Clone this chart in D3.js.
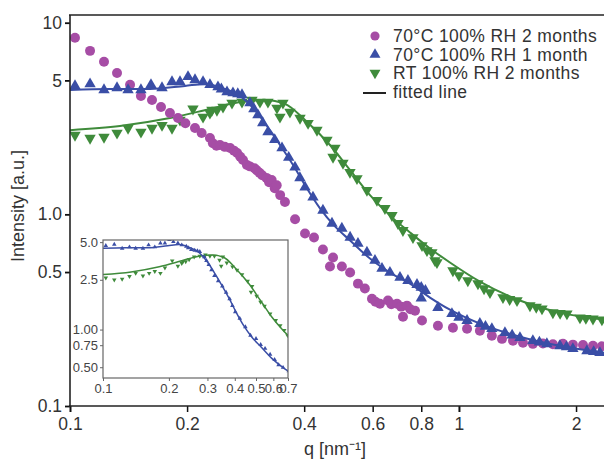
<!DOCTYPE html>
<html><head><meta charset="utf-8">
<script src="https://cdn.jsdelivr.net/npm/d3@7"></script>
<style>body{margin:0;background:#fff}svg{display:block;font-family:"Liberation Sans",Arial,sans-serif}</style>
</head><body><svg id="c" width="604" height="459"></svg>
<script>
// ---- data (q in nm^-1, intensity in a.u.) ----
const purpleQ=[0.103,0.1126,0.1223,0.1321,0.1427,0.1522,0.1625,0.1714,0.1807,0.1895,0.198,0.2096,0.218,0.229,0.233,0.238,0.243,0.25,0.258,0.264,0.269,0.274,0.2785,0.285,0.29,0.298,0.302,0.307,0.312,0.32,0.325,0.33,0.336,0.34,0.347,0.357,0.379,0.402,0.424,0.447,0.4745,0.466,0.500,0.525,0.55,0.573,0.5975,0.61,0.6265,0.657,0.67,0.693,0.71,0.735,0.75,0.771,0.718,0.8035,0.883,0.965,1.049,1.132,1.215,1.29,1.377,1.461,1.549,1.644,1.744,1.851,1.963,2.084,2.211,2.331];
const purpleI=[8.35,7.13,6.25,5.47,4.74,4.15,3.95,3.63,3.38,3.18,2.99,2.82,2.66,2.50,2.35,2.28,2.30,2.25,2.22,2.15,2.09,2.0,1.92,1.81,1.78,1.74,1.70,1.65,1.60,1.55,1.47,1.51,1.37,1.42,1.26,1.16,0.942,0.795,0.758,0.656,0.596,0.534,0.534,0.497,0.435,0.41,0.363,0.35,0.342,0.355,0.34,0.342,0.33,0.334,0.32,0.314,0.292,0.279,0.262,0.256,0.253,0.247,0.2325,0.224,0.219,0.214,0.211,0.212,0.210,0.211,0.209,0.208,0.206,0.205];

const blueQ=[0.103,0.1126,0.1223,0.1321,0.141,0.1522,0.1615,0.1724,0.1829,0.1918,0.2011,0.2096,0.2198,0.229,0.2401,0.245,0.2533,0.2624,0.27,0.2768,0.2902,0.297,0.3042,0.313,0.3228,0.336,0.3508,0.365,0.3788,0.39,0.402,0.4214,0.447,0.4716,0.500,0.525,0.55,0.580,0.6082,0.634,0.6646,0.7053,0.7394,0.78,0.80,0.82,0.80,0.883,0.9593,1.0,1.049,1.132,1.17,1.215,1.313,1.37,1.435,1.549,1.61,1.683,1.818,1.89,1.963,2.133,2.22,2.304];
const blueI=[4.68,4.79,4.46,4.57,4.46,4.46,4.74,4.57,4.91,4.91,5.22,5.03,4.91,4.74,4.62,4.5,4.35,4.30,4.25,4.20,3.81,3.55,3.30,3.0,2.69,2.45,2.22,1.98,1.76,1.55,1.385,1.227,1.049,0.897,0.845,0.758,0.705,0.633,0.574,0.522,0.497,0.468,0.451,0.43,0.415,0.40,0.365,0.326,0.303,0.29,0.279,0.269,0.26,0.253,0.241,0.234,0.227,0.219,0.215,0.211,0.206,0.203,0.199,0.194,0.192,0.1895];

const greenQ=[0.103,0.1126,0.1223,0.1321,0.141,0.1522,0.1625,0.1724,0.1829,0.1918,0.2071,0.2198,0.229,0.2317,0.2387,0.2474,0.2609,0.2768,0.2937,0.3079,0.3228,0.3405,0.3528,0.3466,0.3677,0.3903,0.4093,0.4315,0.4578,0.4745,0.4799,0.5033,0.5246,0.5468,0.5800,0.6154,0.6452,0.6726,0.6969,0.7178,0.7616,0.8035,0.8275,0.852,0.8675,0.8779,0.965,1.0,1.054,1.119,1.16,1.2016,1.2976,1.35,1.4101,1.5225,1.58,1.635,1.744,1.82,1.895,2.047,2.12,2.211,2.331];
const greenI=[2.59,2.50,2.53,2.66,2.82,2.69,2.82,2.92,2.82,3.11,3.55,3.22,3.38,3.50,3.50,3.63,3.81,3.86,3.95,3.86,3.86,3.59,3.81,3.22,3.42,3.18,2.99,2.75,2.44,1.99,2.22,1.85,1.66,1.54,1.336,1.184,1.075,0.988,0.897,0.825,0.758,0.688,0.648,0.633,0.574,0.561,0.509,0.48,0.451,0.435,0.41,0.391,0.368,0.36,0.355,0.334,0.328,0.322,0.307,0.305,0.303,0.289,0.287,0.285,0.282];

const blueFitQ=[0.1,0.1267,0.1605,0.1975,0.2223,0.2503,0.2735,0.2989,0.3267,0.3508,0.379,0.402,0.4393,0.480,0.525,0.5905,0.6646,0.7482,0.8424,0.948,1.132,1.435,1.818,2.36];
const blueFitI=[4.46,4.51,4.51,4.68,4.79,4.51,4.15,3.50,2.75,2.22,1.74,1.419,1.075,0.865,0.731,0.588,0.497,0.435,0.368,0.318,0.269,0.230,0.206,0.1895];
const greenFitQ=[0.1,0.1344,0.1807,0.229,0.2735,0.317,0.357,0.402,0.466,0.525,0.5905,0.664,0.7482,0.8424,0.948,1.132,1.435,1.818,2.36];
const greenFitI=[2.75,2.89,3.18,3.55,3.86,3.95,3.77,3.11,2.30,1.70,1.26,0.988,0.805,0.664,0.561,0.446,0.355,0.307,0.282];

const xTicks=[0.1,0.2,0.4,0.6,0.8,1,2];
const xTickLabels=["0.1","0.2","0.4","0.6","0.8","1","2"];
const yTicks=[10,5,1,0.5,0.1];
const yTickLabels=["10","5","1.0","0.5","0.1"];
const insetXTicks=[0.1,0.2,0.3,0.4,0.5,0.6,0.7];
const insetXTickLabels=["0.1","0.2","0.3","0.4","0.5","0.6","0.7"];
const insetYTicks=[5,2.5,1,0.75,0.5];
const insetYTickLabels=["5.0","2.5","1.00","0.75","0.50"];
const legendLabels=["70°C 100% RH 2 months","70°C 100% RH 1 month","RT 100% RH 2 months","fitted line"];

const colors={purple:"#a64da5",blue:"#3a4ea6",green:"#3f8b3b"};
const zip=(a,b)=>a.map((v,i)=>[v,b[i]]);

const svg=d3.select('#c');
const L=70,R=604,T=15,B=406;
const x=d3.scaleLog().domain([0.1,2.36]).range([L,R]);
const y=d3.scaleLog().domain([0.1,10.97]).range([B,T]);

const defs=svg.append('defs');
defs.append('clipPath').attr('id','mainclip').append('rect').attr('x',L).attr('y',T).attr('width',R-L).attr('height',B-T);

const plot=svg.append('g').attr('clip-path','url(#mainclip)');
const sym=(type,size)=>d3.symbol().type(type).size(size);

function drawSeries(g,xs,ys,data,type,size,color,rot){
  g.selectAll(null).data(data).enter().append('path')
   .attr('d',sym(type,size)())
   .attr('transform',d=>`translate(${xs(d[0])},${ys(d[1])})${rot?' rotate(180)':''}`)
   .attr('fill',color);
}
function drawFit(g,xs,ys,data,color,w){
  g.append('path').datum(data)
   .attr('d',d3.line().x(d=>xs(d[0])).y(d=>ys(d[1])).curve(d3.curveMonotoneX))
   .attr('fill','none').attr('stroke',color).attr('stroke-width',w);
}
drawSeries(plot,x,y,zip(greenQ,greenI),d3.symbolTriangle,56,colors.green,true);
drawFit(plot,x,y,zip(greenFitQ,greenFitI),colors.green,2);
drawSeries(plot,x,y,zip(purpleQ,purpleI),d3.symbolCircle,78,colors.purple,false);
drawSeries(plot,x,y,zip(blueQ,blueI),d3.symbolTriangle,56,colors.blue,false);
drawFit(plot,x,y,zip(blueFitQ,blueFitI),colors.blue,2);

// axes
const ax=svg.append('g').attr('transform',`translate(0,${B})`)
  .call(d3.axisBottom(x).tickValues(xTicks).tickFormat((d,i)=>xTickLabels[i]).tickSize(6).tickSizeOuter(0).tickPadding(6));
ax.select('.domain').remove();
ax.selectAll('.tick line').attr('stroke','#111').attr('stroke-width',(d)=>(d===0.1||d===1)?2:1.5);
ax.selectAll('.tick text').attr('font-size',17.5).attr('fill','#333').attr('font-family','"Liberation Sans",Arial,sans-serif');

const ay=svg.append('g').attr('transform',`translate(${L},0)`)
  .call(d3.axisLeft(y).tickValues(yTicks).tickFormat((d,i)=>yTickLabels[i]).tickSize(5).tickSizeOuter(0).tickPadding(3));
ay.select('.domain').remove();
ay.selectAll('.tick line').attr('stroke','#111').attr('stroke-width',1.8);
ay.selectAll('.tick text').attr('font-size',17.5).attr('fill','#333').attr('font-family','"Liberation Sans",Arial,sans-serif');

svg.append('line').attr('x1',L).attr('x2',L).attr('y1',T).attr('y2',B+1).attr('stroke','#222').attr('stroke-width',1.6);
svg.append('line').attr('x1',L-1).attr('x2',R).attr('y1',B).attr('y2',B).attr('stroke','#222').attr('stroke-width',1.6);
svg.append('line').attr('x1',L-1).attr('x2',R).attr('y1',T).attr('y2',T).attr('stroke','#222').attr('stroke-width',1.6);

svg.append('text').attr('x',335).attr('y',455).attr('text-anchor','middle').attr('font-size',18).attr('fill','#333')
  .text('q [nm⁻¹]');
svg.append('text').attr('transform','translate(24,206) rotate(-90)').attr('text-anchor','middle').attr('font-size',18).attr('fill','#333')
  .text('Intensity [a.u.]');

// legend
const lg=svg.append('g');
const rows=[36,54.5,73,92];
const lsym=[[d3.symbolCircle,colors.purple,false,66],[d3.symbolTriangle,colors.blue,false,52],[d3.symbolTriangle,colors.green,true,52]];
lsym.forEach((s,i)=>{
  lg.append('path').attr('d',sym(s[0],s[3])()).attr('fill',s[1])
    .attr('transform',`translate(375,${rows[i]})${s[2]?' rotate(180)':''}`);
});
lg.append('line').attr('x1',363).attr('x2',386).attr('y1',rows[3]+1).attr('y2',rows[3]+1).attr('stroke','#222').attr('stroke-width',2);
legendLabels.forEach((t,i)=>{
  lg.append('text').attr('x',393).attr('y',rows[i]).attr('dy','0.36em').attr('font-size',17.5).attr('letter-spacing',0.4).attr('fill','#333').text(t);
});

// inset
const iL=103,iR=288,iT=240,iB=378;
const ix=d3.scaleLog().domain([0.1,0.7]).range([iL,iR]);
const iy=d3.scaleLog().domain([0.41,5.2]).range([iB,iT]);
svg.append('rect').attr('x',iL).attr('y',iT).attr('width',iR-iL).attr('height',iB-iT).attr('fill','#fff');
defs.append('clipPath').attr('id','insetclip').append('rect').attr('x',iL).attr('y',iT).attr('width',iR-iL).attr('height',iB-iT);
const ip=svg.append('g').attr('clip-path','url(#insetclip)');
const inR=d=>d[0]<=0.72;
drawSeries(ip,ix,iy,zip(greenQ,greenI).filter(inR),d3.symbolTriangle,9,colors.green,true);
drawFit(ip,ix,iy,zip(greenFitQ,greenFitI).filter(d=>d[0]<=0.76),colors.green,1.5);
drawSeries(ip,ix,iy,zip(blueQ,blueI).filter(inR),d3.symbolTriangle,9,colors.blue,false);
drawFit(ip,ix,iy,zip(blueFitQ,blueFitI).filter(d=>d[0]<=0.76),colors.blue,1.5);
svg.append('rect').attr('x',iL).attr('y',iT).attr('width',iR-iL).attr('height',iB-iT).attr('fill','none').attr('stroke','#666').attr('stroke-width',1.2);

const iax=svg.append('g').attr('transform',`translate(0,${iB})`)
  .call(d3.axisBottom(ix).tickValues(insetXTicks).tickFormat((d,i)=>insetXTickLabels[i]).tickSize(3).tickSizeOuter(0).tickPadding(3));
iax.select('.domain').remove();
iax.selectAll('.tick line').attr('stroke','#666');
iax.selectAll('.tick text').attr('font-size',13).attr('fill','#444').attr('font-family','"Liberation Sans",Arial,sans-serif');
const iay=svg.append('g').attr('transform',`translate(${iL},0)`)
  .call(d3.axisLeft(iy).tickValues(insetYTicks).tickFormat((d,i)=>insetYTickLabels[i]).tickSize(3).tickSizeOuter(0).tickPadding(2));
iay.select('.domain').remove();
iay.selectAll('.tick line').attr('stroke','#666');
iay.selectAll('.tick text').attr('font-size',13).attr('fill','#444').attr('font-family','"Liberation Sans",Arial,sans-serif');
</script></body></html>
